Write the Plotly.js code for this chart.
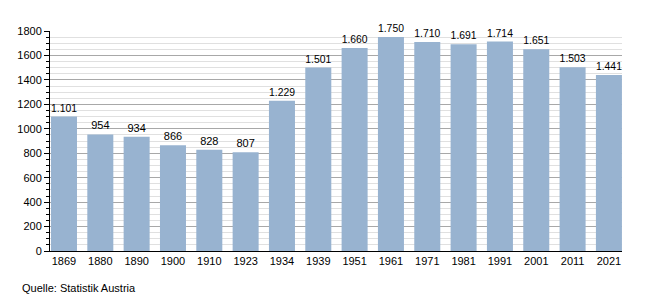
<!DOCTYPE html>
<html>
<head>
<meta charset="utf-8">
<script src="https://cdn.plot.ly/plotly-3.0.1.min.js"></script>
<style>html,body{margin:0;padding:0;background:#fff;}#chart{width:650px;height:300px;}</style>
</head>
<body>
<div id="chart"></div>
<script>
const years = ['1869','1880','1890','1900','1910','1923','1934','1939','1951','1961','1971','1981','1991','2001','2011','2021'];
const population = [1101,954,934,866,828,807,1229,1501,1660,1750,1710,1691,1714,1651,1503,1441];
const source = 'Quelle: Statistik Austria';

const trace = {
  type: 'bar',
  x: years,
  y: population,
  marker: {color: '#98b3d0'},
  texttemplate: '%{y:,}',
  textposition: 'outside',
  cliponaxis: false,
  textfont: {family: 'Liberation Sans, Arial, sans-serif', size: 11, color: '#000'},
  hoverinfo: 'none'
};

const layout = {
  width: 650, height: 300,
  margin: {l: 50, r: 28, t: 31, b: 49},
  paper_bgcolor: '#fff', plot_bgcolor: '#fff',
  separators: ',.',
  bargap: 0.284,
  showlegend: false,
  font: {family: 'Liberation Sans, Arial, sans-serif', size: 11, color: '#000'},
  xaxis: {
    type: 'category',
    range: [-0.385, 15.36],
    showline: true, linecolor: '#000', linewidth: 1,
    ticks: '', showgrid: false,
    tickfont: {size: 11}
  },
  yaxis: {
    range: [0, 1800],
    dtick: 200,
    showline: true, linecolor: '#000', linewidth: 1,
    ticks: 'outside', ticklen: 5, tickcolor: '#000',
    gridcolor: '#a8a8a8', gridwidth: 1,
    tickformat: 'd',
    zeroline: false,
    minor: {dtick: 50, showgrid: true, gridcolor: '#e0e0e0', ticks: 'outside', ticklen: 3, tickcolor: '#000'},
    tickfont: {size: 11}
  },
  annotations: [{
    text: source, xref: 'paper', yref: 'paper',
    x: 0, y: 0, xanchor: 'left', yanchor: 'middle',
    showarrow: false, font: {size: 11, color: '#000'}
  }]
};
layout.annotations[0].x = (20 - 50) / 572;
layout.annotations[0].y = (251 - 288) / 220;

Plotly.newPlot('chart', [trace], layout, {displayModeBar: false, staticPlot: true});
</script>
</body>
</html>
